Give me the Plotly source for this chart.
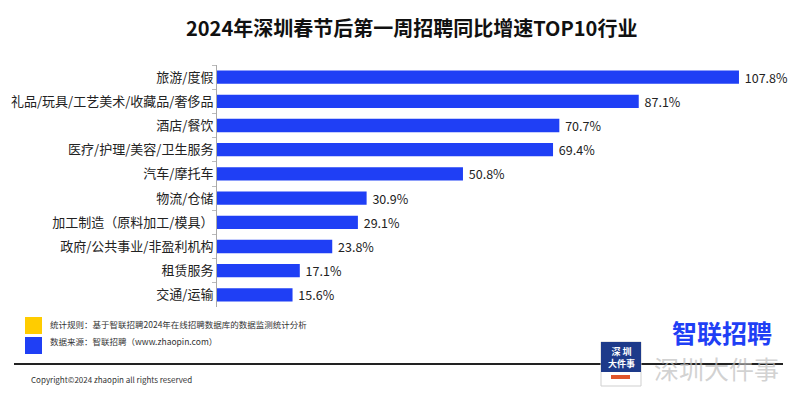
import plotly.graph_objects as go

categories = ["旅游/度假", "礼品/玩具/工艺美术/收藏品/奢侈品", "酒店/餐饮", "医疗/护理/美容/卫生服务",
              "汽车/摩托车", "物流/仓储", "加工制造（原料加工/模具）", "政府/公共事业/非盈利机构",
              "租赁服务", "交通/运输"]
values = [107.8, 87.1, 70.7, 69.4, 50.8, 30.9, 29.1, 23.8, 17.1, 15.6]
value_labels = [f"{v:.1f}%" for v in values]

title = "2024年深圳春节后第一周招聘同比增速TOP10行业"
note1 = "统计规则：基于智联招聘2024年在线招聘数据库的数据监测统计分析"
note2 = "数据来源：智联招聘（www.zhaopin.com）"
copyright_text = "Copyright©2024 zhaopin all rights reserved"

W, H = 800, 399
L, R, T, B = 217, 20, 65, 92
PW, PH = W - L - R, H - T - B

def px(x):
    return (x - L) / PW

def py(y):
    return (H - B - y) / PH

FONT = "Noto Sans CJK SC, Microsoft YaHei, sans-serif"
BLUE = "#1f3ff5"

fig = go.Figure(go.Bar(
    x=values, y=categories, orientation="h",
    marker=dict(color=BLUE, line=dict(width=0)),
    width=0.55,
    text=value_labels, texttemplate="\u00a0%{text}",
    textposition="outside", constraintext="none",
    textfont=dict(size=12.5, color="#222222", family=FONT),
    cliponaxis=False,
))

shapes = [
    dict(type="rect", xref="paper", yref="paper", x0=px(25), x1=px(42), y0=py(334), y1=py(317),
         fillcolor="#ffcc00", line=dict(width=0)),
    dict(type="rect", xref="paper", yref="paper", x0=px(25), x1=px(42), y0=py(354), y1=py(337),
         fillcolor="#1f3ff5", line=dict(width=0)),
    dict(type="rect", xref="paper", yref="paper", x0=px(14), x1=px(783), y0=py(365), y1=py(363),
         fillcolor="#222222", line=dict(width=0), layer="above"),
    dict(type="rect", xref="paper", yref="paper", x0=px(601), x1=px(641), y0=py(386), y1=py(342),
         fillcolor="#ffffff", line=dict(color="#cfcfcf", width=1)),
    dict(type="rect", xref="paper", yref="paper", x0=px(601), x1=px(641), y0=py(372), y1=py(342),
         fillcolor="#1d3a8a", line=dict(width=0)),
    dict(type="rect", xref="paper", yref="paper", x0=px(611), x1=px(630), y0=py(379), y1=py(375),
         fillcolor="#e0552a", line=dict(width=0)),
]

annotations = [
    dict(text=f"<b>{title}</b>", xref="paper", yref="paper", x=px(411), y=py(28),
         xanchor="center", yanchor="middle", showarrow=False,
         font=dict(size=20, color="#111111", family=FONT)),
    dict(text=note1, xref="paper", yref="paper", x=px(48), y=py(324),
         xanchor="left", yanchor="middle", showarrow=False,
         font=dict(size=8.5, color="#333333", family=FONT)),
    dict(text=note2, xref="paper", yref="paper", x=px(48), y=py(341),
         xanchor="left", yanchor="middle", showarrow=False,
         font=dict(size=8.5, color="#333333", family=FONT)),
    dict(text=copyright_text, xref="paper", yref="paper", x=px(29), y=py(379),
         xanchor="left", yanchor="middle", showarrow=False,
         font=dict(size=8, color="#333333", family=FONT)),
    dict(text="<b>智联招聘</b>", xref="paper", yref="paper", x=px(722), y=py(332),
         xanchor="center", yanchor="middle", showarrow=False,
         font=dict(size=25, color="#1f3ff5", family=FONT)),
    dict(text="深圳大件事", xref="paper", yref="paper", x=px(716), y=py(368.5),
         xanchor="center", yanchor="middle", showarrow=False,
         font=dict(size=25, color="rgba(190,190,190,0.7)", family=FONT)),
    dict(text="<b>深 圳<br>大件事</b>", xref="paper", yref="paper", x=px(621), y=py(357),
         xanchor="center", yanchor="middle", showarrow=False,
         font=dict(size=9, color="#ffffff", family=FONT)),
]

fig.update_layout(
    width=W, height=H,
    margin=dict(l=L, r=R, t=T, b=B, autoexpand=False),
    paper_bgcolor="white", plot_bgcolor="white",
    showlegend=False,
    shapes=shapes, annotations=annotations,
    xaxis=dict(range=[0, PW / 4.842], visible=False, fixedrange=True),
    yaxis=dict(type="category", autorange="reversed", fixedrange=True,
               showline=True, linecolor="#aaaaaa", linewidth=1,
               ticks="outside", tickson="boundaries", ticklen=4, tickcolor="#bbbbbb",
               tickfont=dict(size=13, color="#222222", family=FONT),
               showgrid=False, zeroline=False),
    font=dict(family=FONT),
)

fig.write_html("out.html", config={"displayModeBar": False},
               post_script="document.body.style.margin='0';")
